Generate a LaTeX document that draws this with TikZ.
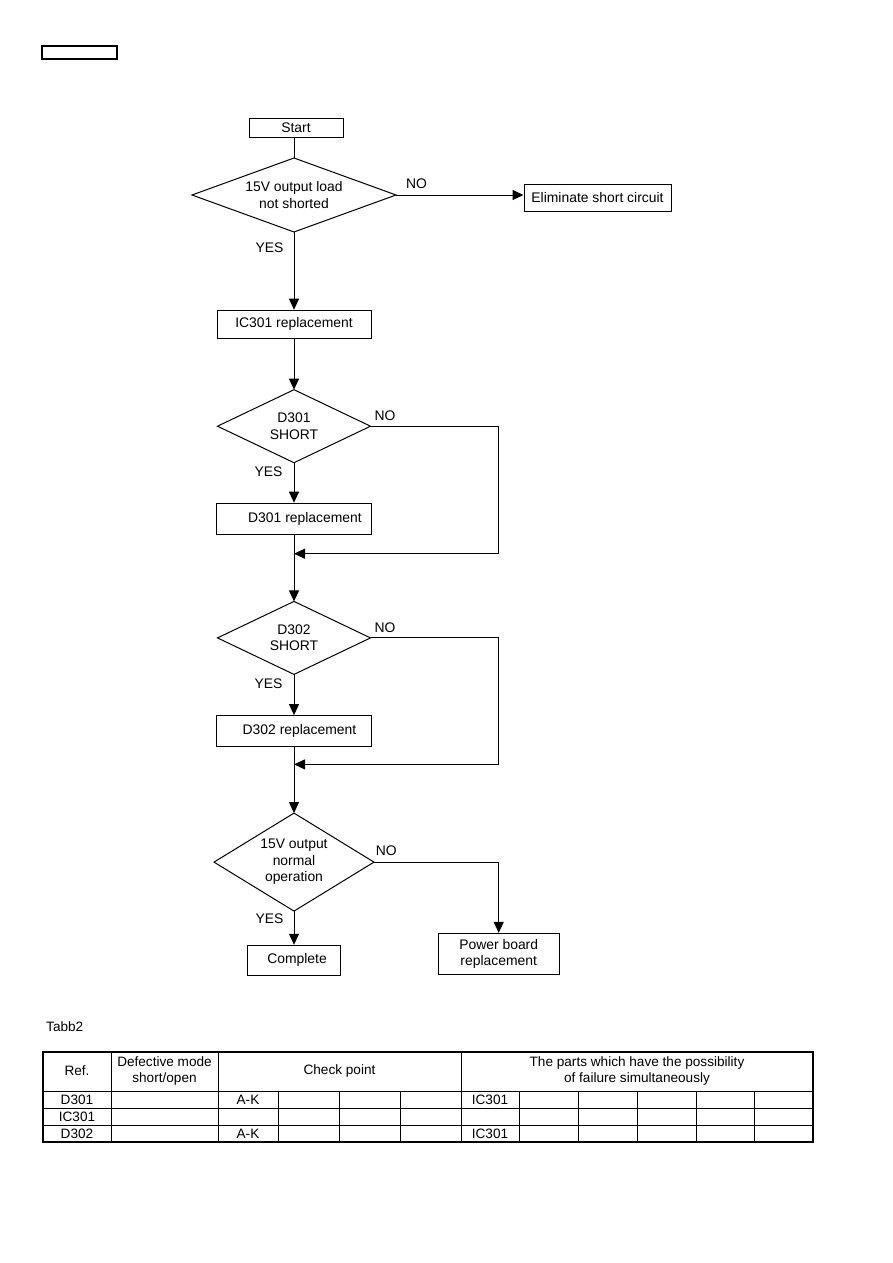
\documentclass[tikz,border=0pt]{standalone}
\usepackage{fontspec}
\setmainfont{Liberation Sans}
\usetikzlibrary{arrows.meta,positioning,shapes.geometric}

\begin{document}
\begin{tikzpicture}[x=1pt, y=-1pt,
    font=\fontsize{13.9}{16.5}\selectfont,
    box/.style={rectangle, draw, line width=1pt, align=center, inner sep=2pt},
    decision/.style={diamond, draw, line width=1pt, align=center, inner sep=0pt, outer sep=0pt},
    lbl/.style={inner sep=0pt},
    arr/.style={-{Triangle[length=11pt, width=10pt]}, line width=1pt},
    line/.style={line width=1pt},
    cell/.style={inner sep=0pt, align=center, font=\fontsize{13.6}{16}\selectfont}]
\useasboundingbox (0,0) rectangle (893,1263);
\draw[line width=1.2pt] (42,46) rectangle (117,59);

% flow chart
\node[box, minimum width=94pt, minimum height=19pt] (start) at (296,127.8) {Start};
\node[decision, minimum width=204pt, minimum height=74pt, shape aspect=2.7] (d1) at (294,195) {15V output load\\not shorted};
\node[box, minimum width=147pt, minimum height=27pt] (elim) at (597.5,197.5) {Eliminate short circuit};
\node[box, minimum width=154pt, minimum height=28pt, below=77.7pt of d1] (ic) {IC301 replacement};
\node[decision, minimum width=153pt, minimum height=73pt, shape aspect=2.1, below=51pt of ic] (d2) {D301\\SHORT};
\node[box, minimum width=155.6pt, minimum height=31pt, below=40pt of d2] (r1) {\hspace*{22pt}D301 replacement};
\coordinate[below=19pt of r1] (m1);
\node[decision, minimum width=153pt, minimum height=73pt, shape aspect=2.1, below=66.7pt of r1] (d3) {D302\\SHORT};
\node[box, minimum width=155.6pt, minimum height=31pt, below=40.7pt of d3] (r2) {\hspace*{11pt}D302 replacement};
\coordinate[below=17.3pt of r2] (m2);
\node[decision, minimum width=160pt, minimum height=98pt, shape aspect=1.6, below=66pt of r2] (d4) {15V output\\normal\\operation};
\node[box, minimum width=93.3pt, minimum height=30pt, below=33.7pt of d4] (done) {\hspace*{6pt}Complete};
\node[box, minimum width=120.7pt, minimum height=40.7pt] (pb) at (498.7,953.7) {Power board\\replacement};

\draw[line] (d1.north |- start.south) -- (d1.north);
\draw[arr] (d1.east) -- node[lbl, pos=0, anchor=south west, xshift=9.6pt, yshift=6pt] {NO} (d1.east -| elim.west);
\draw[arr] (d1.south) -- node[lbl, pos=0, anchor=north east, xshift=-10pt, yshift=-10pt] {YES} (ic.north);
\draw[arr] (ic.south) -- (d2.north);
\draw[arr] (d2.south) -- node[lbl, pos=0, anchor=north east, xshift=-11pt, yshift=-3.7pt] {YES} (r1.north);
\draw[arr] (d2.east) -- node[lbl, pos=0, anchor=south west, xshift=3.6pt, yshift=5pt] {NO} (d2.east -| pb.north) |- (m1);
\draw[arr] (r1.south) -- (d3.north);
\draw[arr] (d3.south) -- node[lbl, pos=0, anchor=north east, xshift=-11pt, yshift=-3.7pt] {YES} (r2.north);
\draw[arr] (d3.east) -- node[lbl, pos=0, anchor=south west, xshift=3.6pt, yshift=5pt] {NO} (d3.east -| pb.north) |- (m2);
\draw[arr] (r2.south) -- (d4.north);
\draw[arr] (d4.south) -- node[lbl, pos=0, anchor=north east, xshift=-10pt, yshift=-2pt] {YES} (done.north);
\draw[arr] (d4.east) -- node[lbl, pos=0, anchor=south west, xshift=1.3pt, yshift=6pt] {NO} (d4.east -| pb.north) -- (pb.north);

% table
\node[cell, anchor=west] (tcap) at (46,1027) {Tabb2};
\draw[line width=1.2pt] (43,1052) rectangle (813,1142);
\foreach \y in {1091,1108,1125} \draw[line] (43,\y) -- (813,\y);
\foreach \x in {111,218,461} \draw[line] (\x,1052) -- (\x,1142);
\foreach \x in {278,339,400,519,578,637,696,754} \draw[line] (\x,1091) -- (\x,1142);
\node[cell] (h1) at (77,1071) {Ref.};
\node[cell] (h2) at (164.5,1071) {Defective mode\\short/open};
\node[cell] (h3) at (339.5,1071) {Check point};
\node[cell] (h4) at (637,1071) {The parts which have the possibility\\of failure simultaneously};
\foreach \rname/\chk/\prt [count=\i] in {D301/A-K/IC301, IC301//, D302/A-K/IC301} {
  \node[cell] (ref\i) at (77,1082.5+17*\i) {\rname};
  \node[cell] (chk\i) at (248,1082.5+17*\i) {\chk};
  \node[cell] (prt\i) at (490,1082.5+17*\i) {\prt};
}
\end{tikzpicture}
\end{document}
